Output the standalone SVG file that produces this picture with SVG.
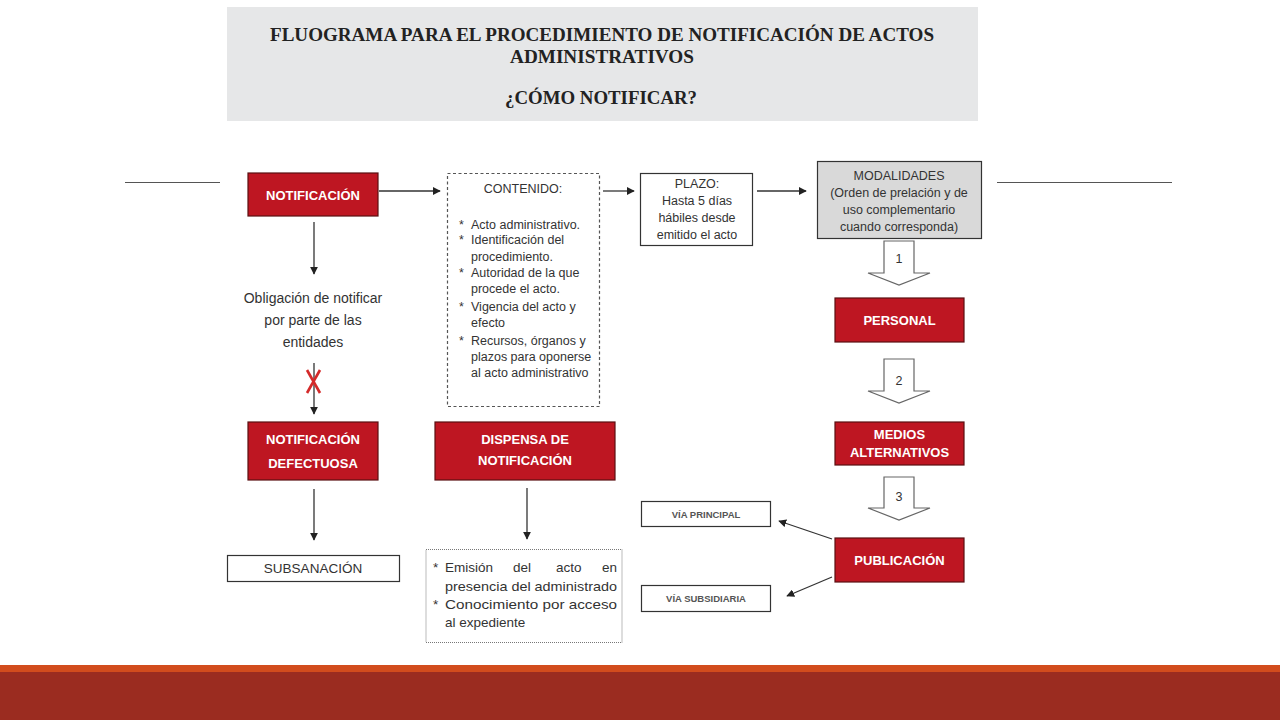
<svg xmlns="http://www.w3.org/2000/svg" width="1280" height="720" viewBox="0 0 1280 720">
<defs>
<marker id="ah" viewBox="0 0 10 10" refX="9" refY="5" markerWidth="8" markerHeight="8" markerUnits="userSpaceOnUse" orient="auto">
<path d="M0,0 L10,5 L0,10 z" fill="#222"/>
</marker>
<style>
.red{fill:#BE1622;stroke:#5a1012;stroke-width:1.2}
.rt{font-family:"Liberation Sans",Arial,sans-serif;font-weight:bold;font-size:13px;fill:#fff;text-anchor:middle}
.box{fill:#fff;stroke:#333;stroke-width:1.2}
.t{font-family:"Liberation Sans",Arial,sans-serif;font-size:12.5px;fill:#333}
.tc{font-family:"Liberation Sans",Arial,sans-serif;font-size:12.5px;fill:#333;text-anchor:middle}
.ln{stroke:#333;stroke-width:1.3;fill:none}
.arr{stroke:#333;stroke-width:1.3;fill:none;marker-end:url(#ah)}
.blk{fill:#fff;stroke:#666;stroke-width:1.2}
.title{font-family:"Liberation Serif","Times New Roman",serif;font-weight:bold;font-size:18px;fill:#222;text-anchor:middle}
</style>
</defs>
<rect width="1280" height="720" fill="#fff"/>

<g id="header">
<rect x="227" y="7" width="751" height="114" fill="#E6E7E8"/>
<text class="title" x="602" y="41" textLength="664" lengthAdjust="spacingAndGlyphs">FLUOGRAMA PARA EL PROCEDIMIENTO DE NOTIFICACIÓN DE ACTOS</text>
<text class="title" x="602" y="63" textLength="184" lengthAdjust="spacingAndGlyphs">ADMINISTRATIVOS</text>
<text class="title" x="601" y="104" textLength="192" lengthAdjust="spacingAndGlyphs">¿CÓMO NOTIFICAR?</text>
</g>

<g id="deco">
<line x1="125" y1="182.5" x2="220" y2="182.5" stroke="#555" stroke-width="1"/>
<line x1="997" y1="182.5" x2="1172" y2="182.5" stroke="#555" stroke-width="1"/>
<rect x="0" y="665" width="1280" height="7" fill="#D24C1D"/>
<rect x="0" y="672" width="1280" height="48" fill="#9B2C20"/>
</g>

<g id="connectors">
<line class="arr" x1="379" y1="191" x2="440" y2="191"/>
<line class="arr" x1="603" y1="191" x2="634" y2="191"/>
<line class="arr" x1="757" y1="191" x2="806" y2="191"/>
<line class="arr" x1="314" y1="222" x2="314" y2="274"/>
<line class="arr" x1="314" y1="363" x2="314" y2="414"/>
<line class="arr" x1="314" y1="489" x2="314" y2="540"/>
<line class="arr" x1="527" y1="488" x2="527" y2="539"/>
<line class="arr" x1="832" y1="539" x2="779" y2="521"/>
<line class="arr" x1="832" y1="577" x2="787" y2="596"/>
<g id="x-mark" stroke="#D42A2A" stroke-width="2.6" fill="none">
<line x1="307" y1="370" x2="320" y2="393"/>
<line x1="320" y1="370" x2="307" y2="393"/>
</g>
<g id="step1">
<path class="blk" d="M884,241 V273 H868 L899,285 L930,273 H914 V241 Z"/>
<text class="tc" x="899" y="263">1</text>
</g>
<g id="step2">
<path class="blk" d="M884,359 V391 H868 L899,403 L930,391 H914 V359 Z"/>
<text class="tc" x="899" y="385">2</text>
</g>
<g id="step3">
<path class="blk" d="M884,477 V508 H868 L899,520 L930,508 H914 V477 Z"/>
<text class="tc" x="899" y="501">3</text>
</g>
</g>

<g id="notificacion">
<rect class="red" x="248" y="173" width="130" height="43"/>
<text class="rt" x="313" y="200">NOTIFICACIÓN</text>
</g>

<g id="contenido">
<rect x="447.5" y="173.5" width="152" height="233" fill="#fff" stroke="#555" stroke-width="1.2" stroke-dasharray="3,2.5"/>
<text class="tc" x="523" y="193">CONTENIDO:</text>
<g class="t">
<text x="459" y="229">*</text><text x="471" y="229">Acto administrativo.</text>
<text x="459" y="244">*</text><text x="471" y="244">Identificación del</text>
<text x="471" y="261">procedimiento.</text>
<text x="459" y="277">*</text><text x="471" y="277">Autoridad de la que</text>
<text x="471" y="293">procede el acto.</text>
<text x="459" y="311">*</text><text x="471" y="311">Vigencia del acto y</text>
<text x="471" y="327">efecto</text>
<text x="459" y="345">*</text><text x="471" y="345">Recursos, órganos y</text>
<text x="471" y="361">plazos para oponerse</text>
<text x="471" y="377">al acto administrativo</text>
</g>
</g>

<g id="plazo">
<rect class="box" x="640.5" y="173.5" width="112" height="72"/>
<text class="tc" x="697" y="188">PLAZO:</text>
<text class="tc" x="697" y="205">Hasta 5 días</text>
<text class="tc" x="697" y="222">hábiles desde</text>
<text class="tc" x="697" y="239">emitido el acto</text>
</g>

<g id="modalidades">
<rect x="817.5" y="161.5" width="164" height="77" fill="#D9D9D9" stroke="#333" stroke-width="1.2"/>
<text class="tc" x="899" y="180">MODALIDADES</text>
<text class="tc" x="899" y="197">(Orden de prelación y de</text>
<text class="tc" x="899" y="214">uso complementario</text>
<text class="tc" x="899" y="231">cuando corresponda)</text>
</g>

<g id="obligacion">
<text class="tc" x="313" y="303" style="font-size:14px">Obligación de notificar</text>
<text class="tc" x="313" y="325" style="font-size:14px">por parte de las</text>
<text class="tc" x="313" y="347" style="font-size:14px">entidades</text>
</g>

<g id="personal">
<rect class="red" x="835" y="298" width="129" height="44"/>
<text class="rt" x="899.5" y="325">PERSONAL</text>
</g>

<g id="medios">
<rect class="red" x="835" y="422" width="129" height="43"/>
<text class="rt" x="899.5" y="439">MEDIOS</text>
<text class="rt" x="899.5" y="457">ALTERNATIVOS</text>
</g>

<g id="publicacion">
<rect class="red" x="835" y="538" width="129" height="44"/>
<text class="rt" x="899.5" y="565">PUBLICACIÓN</text>
</g>

<g id="via-principal">
<rect class="box" x="641.5" y="501.5" width="129" height="25"/>
<text class="tc" x="706" y="518" style="font-size:9.5px;font-weight:bold;fill:#555">VÍA PRINCIPAL</text>
</g>

<g id="via-subsidiaria">
<rect class="box" x="641.5" y="585.5" width="129" height="26"/>
<text class="tc" x="706" y="602" style="font-size:9.5px;font-weight:bold;fill:#555">VÍA SUBSIDIARIA</text>
</g>

<g id="defectuosa">
<rect class="red" x="248" y="422" width="130" height="58"/>
<text class="rt" x="313" y="444">NOTIFICACIÓN</text>
<text class="rt" x="313" y="468">DEFECTUOSA</text>
</g>

<g id="subsanacion">
<rect class="box" x="227.5" y="555.5" width="172" height="26"/>
<text class="tc" x="313" y="573" style="font-size:13.5px">SUBSANACIÓN</text>
</g>

<g id="dispensa">
<rect class="red" x="435" y="422" width="180" height="58"/>
<text class="rt" x="525" y="444">DISPENSA DE</text>
<text class="rt" x="525" y="465">NOTIFICACIÓN</text>
</g>

<g id="dispensa-items">
<rect x="426" y="549.5" width="196" height="93" fill="#fff" stroke="#777" stroke-width="1" stroke-dasharray="1,1"/>
<g class="t" style="font-size:13.5px">
<text x="433" y="572">*</text>
<text x="445" y="572">Emisión</text>
<text x="513" y="572">del</text>
<text x="556" y="572">acto</text>
<text x="617" y="572" text-anchor="end">en</text>
<text x="445" y="591" textLength="172" lengthAdjust="spacingAndGlyphs">presencia del administrado</text>
<text x="433" y="609">*</text>
<text x="445" y="609" textLength="172" lengthAdjust="spacingAndGlyphs">Conocimiento por acceso</text>
<text x="445" y="627">al expediente</text>
</g>
</g>
</svg>
